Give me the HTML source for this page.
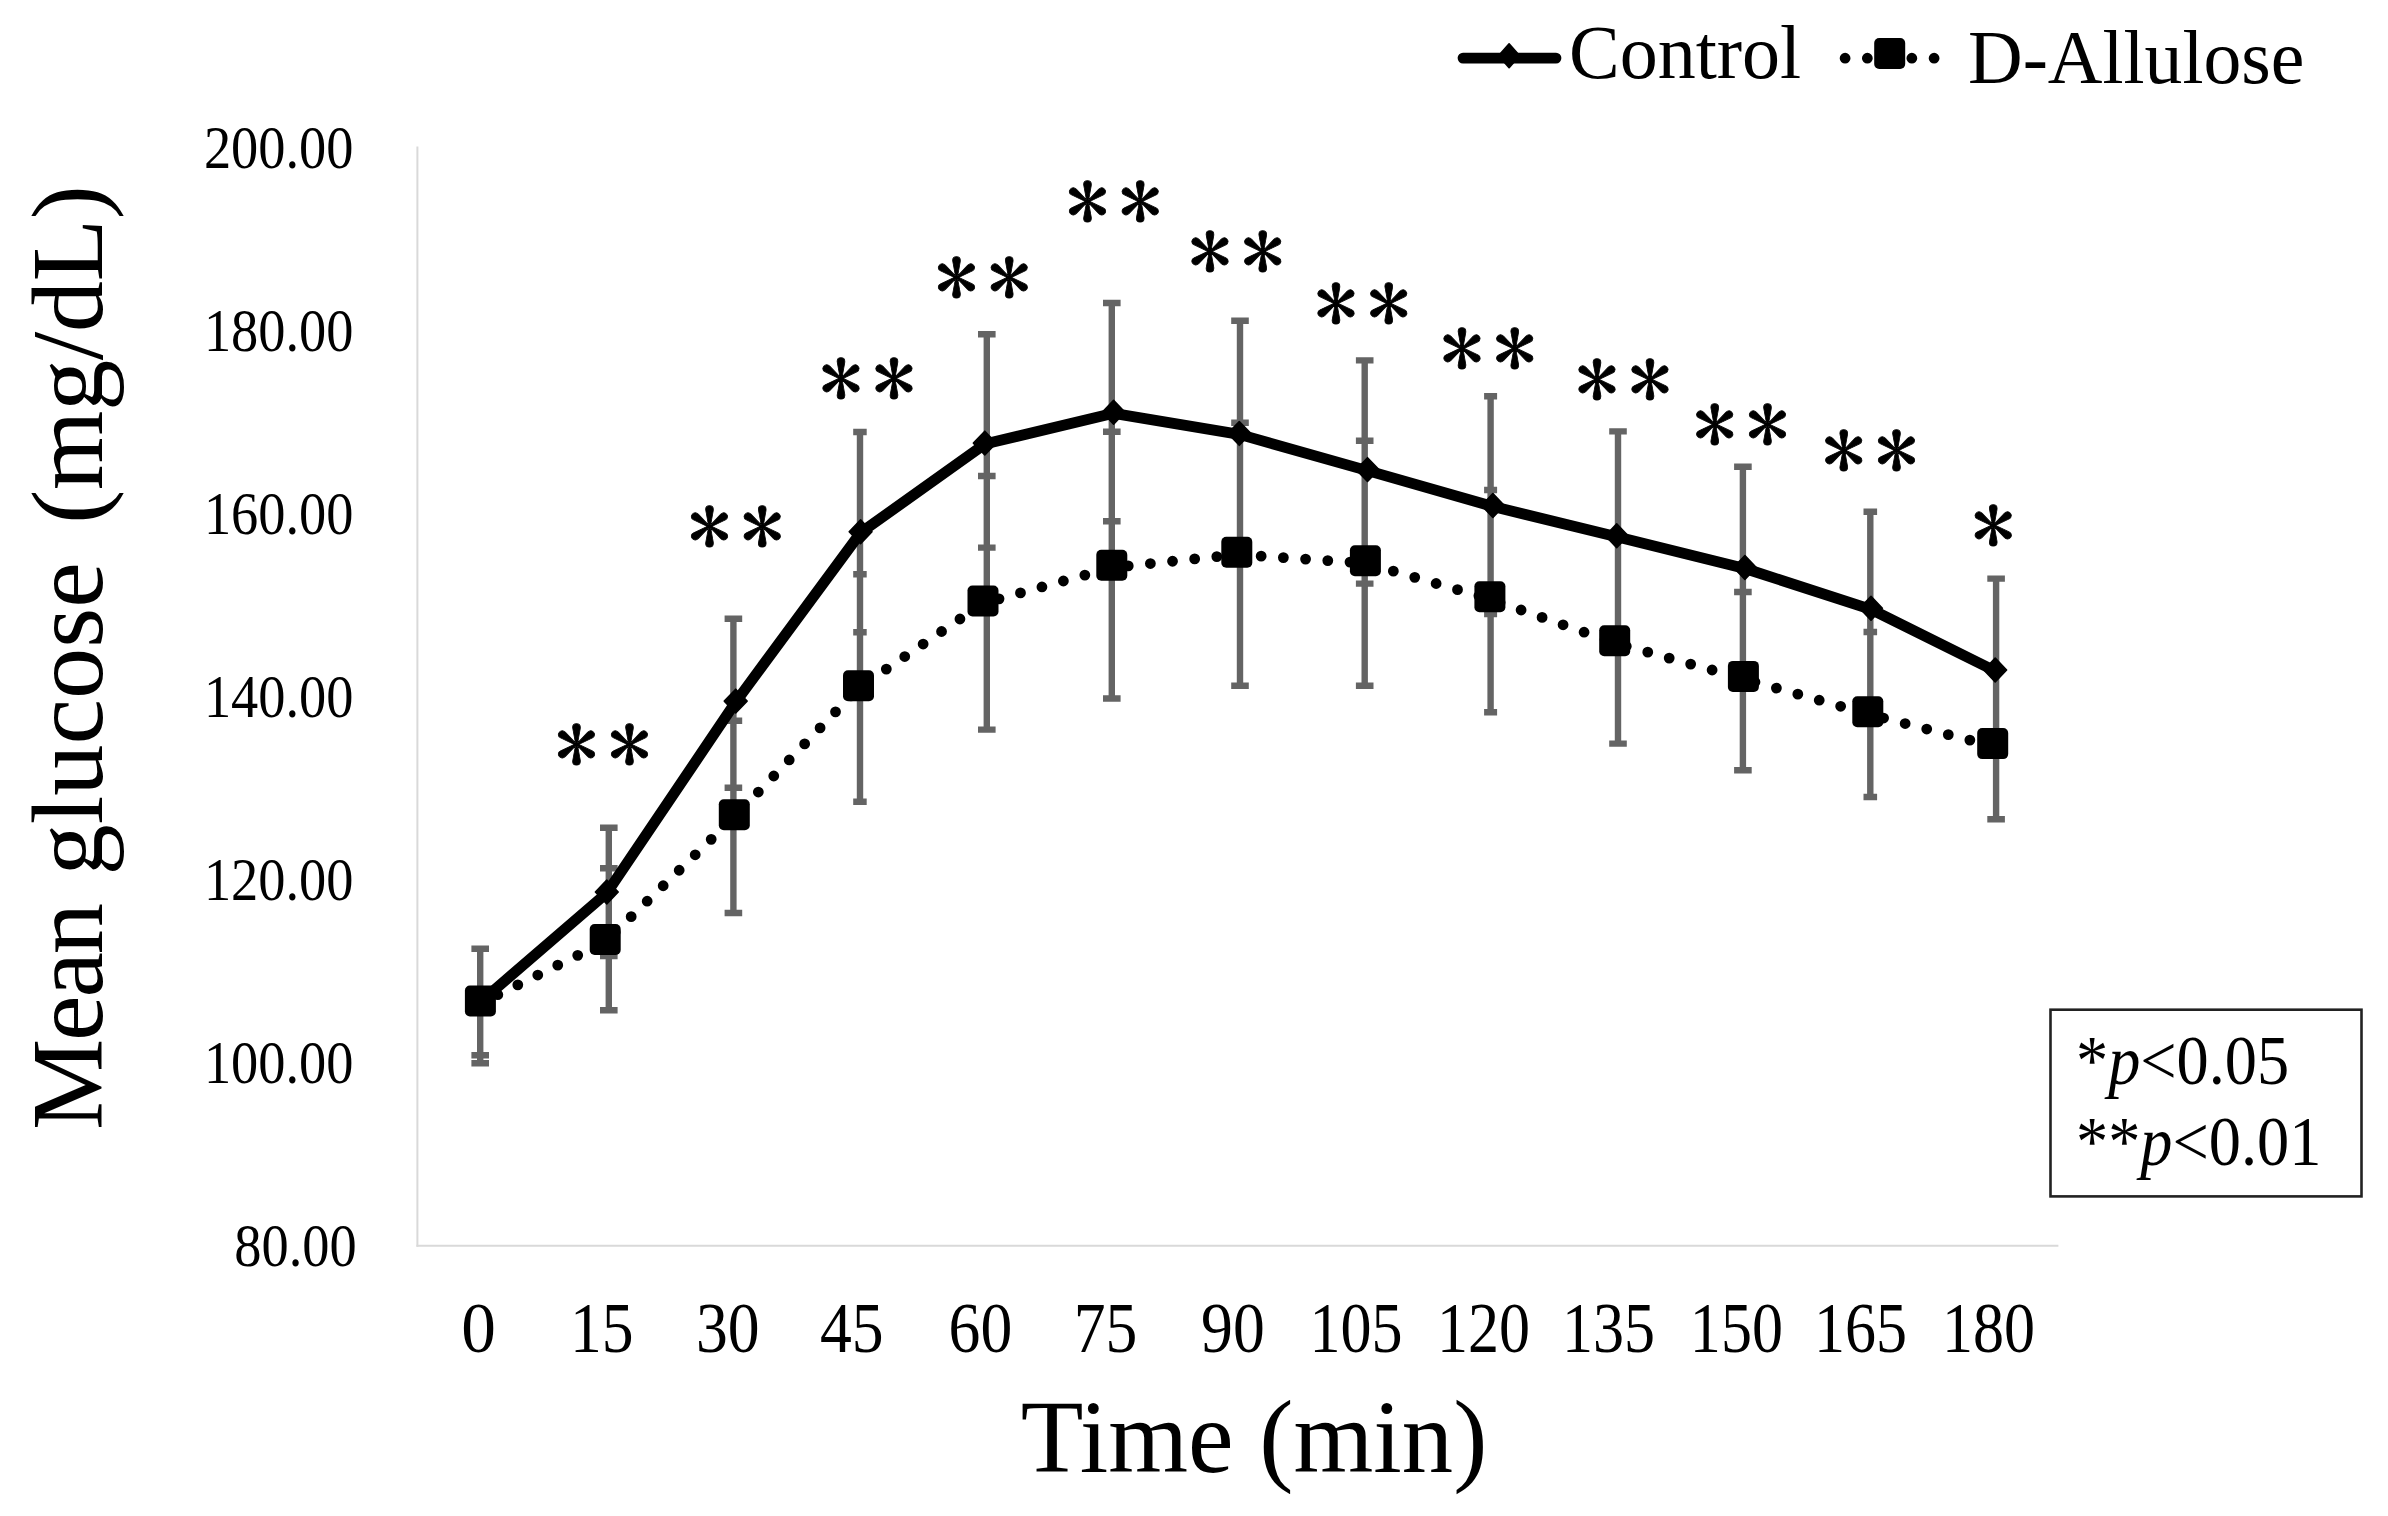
<!DOCTYPE html>
<html lang="en"><head><meta charset="utf-8"><title>Mean glucose over time</title>
<style>html,body{margin:0;padding:0;background:#fff}body{width:2388px;height:1516px;overflow:hidden}svg{display:block}text{font-family:'Liberation Serif',serif;fill:#000}.ast text{font-family:IPAGothic,'Liberation Serif',serif}</style></head><body>
<svg width="2388" height="1516" viewBox="0 0 2388 1516">
<rect width="2388" height="1516" fill="#fff"/>
<g stroke="#d9d9d9" stroke-width="2" fill="none"><line x1="417.4" y1="146.6" x2="417.4" y2="1246.8"/><line x1="416.4" y1="1245.8" x2="2058.4" y2="1245.8"/></g>
<text transform="translate(353.5 167.9) scale(0.892 1)" font-size="61" text-anchor="end">200.00</text>
<text transform="translate(353.5 350.9) scale(0.892 1)" font-size="61" text-anchor="end">180.00</text>
<text transform="translate(353.5 533.9) scale(0.892 1)" font-size="61" text-anchor="end">160.00</text>
<text transform="translate(353.5 716.9) scale(0.892 1)" font-size="61" text-anchor="end">140.00</text>
<text transform="translate(353.5 899.9) scale(0.892 1)" font-size="61" text-anchor="end">120.00</text>
<text transform="translate(353.5 1082.9) scale(0.892 1)" font-size="61" text-anchor="end">100.00</text>
<text transform="translate(356.7 1265.9) scale(0.892 1)" font-size="61" text-anchor="end">80.00</text>
<text transform="translate(478.7 1352.0) scale(0.970 1)" font-size="71.5" text-anchor="middle">0</text>
<text transform="translate(601.7 1352.0) scale(0.890 1)" font-size="71.5" text-anchor="middle">15</text>
<text transform="translate(727.7 1352.0) scale(0.890 1)" font-size="71.5" text-anchor="middle">30</text>
<text transform="translate(851.8 1352.0) scale(0.890 1)" font-size="71.5" text-anchor="middle">45</text>
<text transform="translate(980.4 1352.0) scale(0.890 1)" font-size="71.5" text-anchor="middle">60</text>
<text transform="translate(1105.6 1352.0) scale(0.890 1)" font-size="71.5" text-anchor="middle">75</text>
<text transform="translate(1232.9 1352.0) scale(0.890 1)" font-size="71.5" text-anchor="middle">90</text>
<text transform="translate(1356.0 1352.0) scale(0.868 1)" font-size="71.5" text-anchor="middle">105</text>
<text transform="translate(1483.5 1352.0) scale(0.868 1)" font-size="71.5" text-anchor="middle">120</text>
<text transform="translate(1608.6 1352.0) scale(0.868 1)" font-size="71.5" text-anchor="middle">135</text>
<text transform="translate(1736.4 1352.0) scale(0.868 1)" font-size="71.5" text-anchor="middle">150</text>
<text transform="translate(1860.6 1352.0) scale(0.868 1)" font-size="71.5" text-anchor="middle">165</text>
<text transform="translate(1988.5 1352.0) scale(0.868 1)" font-size="71.5" text-anchor="middle">180</text>
<text transform="translate(1254.0 1472.0) scale(0.987 1)" font-size="104" text-anchor="middle">Time (min)</text>
<text transform="translate(102 1130) rotate(-90)" font-size="102.5"><tspan letter-spacing="-2.1">Mean</tspan><tspan dx="4"> glucose</tspan><tspan dx="13.4" letter-spacing="-0.5"> (mg/dL)</tspan></text>
<g stroke="#646464" stroke-width="6.4" fill="none">
<path d="M480.2 948.8 V1063.2 M471.4 948.8 h17.6 M471.4 1055.3 h17.6 M471.4 1063.2 h17.6"/>
<path d="M608.8 827.7 V1010.2 M600.0 827.7 h17.6 M600.0 868.3 h17.6 M600.0 956.0 h17.6 M600.0 1010.2 h17.6"/>
<path d="M733.4 618.7 V913.0 M724.6 618.7 h17.6 M724.6 720.7 h17.6 M724.6 787.8 h17.6 M724.6 913.0 h17.6"/>
<path d="M860.0 432.0 V801.7 M853.2 432.0 h13.5 M853.2 574.3 h13.5 M853.2 632.2 h13.5 M853.2 801.7 h13.5"/>
<path d="M986.8 334.3 V729.6 M978.0 334.3 h17.6 M978.0 476.0 h17.6 M978.0 547.6 h17.6 M978.0 729.6 h17.6"/>
<path d="M1111.8 303.0 V698.5 M1103.0 303.0 h17.6 M1103.0 431.7 h17.6 M1103.0 521.2 h17.6 M1103.0 698.5 h17.6"/>
<path d="M1240.0 320.8 V685.8 M1231.2 320.8 h17.6 M1231.2 422.8 h17.6 M1231.2 685.8 h17.6"/>
<path d="M1364.7 360.4 V685.8 M1355.9 360.4 h17.6 M1355.9 440.8 h17.6 M1355.9 583.6 h17.6 M1355.9 685.8 h17.6"/>
<path d="M1490.6 396.3 V712.2 M1484.1 396.3 h13.0 M1484.1 490.0 h13.0 M1484.1 614.0 h13.0 M1484.1 712.2 h13.0"/>
<path d="M1618.0 431.4 V743.6 M1609.2 431.4 h17.6 M1609.2 743.6 h17.6"/>
<path d="M1742.9 466.8 V770.3 M1734.1 466.8 h17.6 M1734.1 592.0 h17.6 M1734.1 770.3 h17.6"/>
<path d="M1870.3 511.8 V797.0 M1863.5 511.8 h13.6 M1863.5 632.0 h13.6 M1863.5 797.0 h13.6"/>
<path d="M1996.1 578.6 V819.3 M1987.3 578.6 h17.6 M1987.3 819.3 h17.6"/>
</g>
<path d="M480.4 1003.3 L605.2 941.8 L734.3 817.0 L858.5 688.0 L983.0 603.3 L1111.8 567.6 L1236.8 554.5 L1365.4 563.1 L1489.9 599.0 L1614.7 643.0 L1743.4 678.7 L1867.8 714.0 L1992.7 745.9" fill="none" stroke="#000" stroke-width="10.8" stroke-linecap="round" stroke-linejoin="round" stroke-dasharray="0 22.26" stroke-dashoffset="2.82"/>
<path d="M480.4 1002.0 L606.8 893.0 L735.7 702.1 L860.6 532.7 L984.8 444.1 L1113.6 413.3 L1239.3 434.4 L1367.5 470.6 L1492.9 506.5 L1616.7 536.8 L1744.9 568.5 L1871.0 609.3 L1995.2 671.0" fill="none" stroke="#000" stroke-width="10.8" stroke-linecap="round" stroke-linejoin="round"/>
<g fill="#000" stroke="#000" stroke-width="1.6" stroke-linejoin="round">
<path d="M606.8 880.1 l11.4 11.9 l-11.4 11.9 l-11.4 -11.9z"/>
<path d="M735.7 689.2 l11.4 11.9 l-11.4 11.9 l-11.4 -11.9z"/>
<path d="M860.6 519.8 l11.4 11.9 l-11.4 11.9 l-11.4 -11.9z"/>
<path d="M984.8 431.2 l11.4 11.9 l-11.4 11.9 l-11.4 -11.9z"/>
<path d="M1113.6 400.4 l11.4 11.9 l-11.4 11.9 l-11.4 -11.9z"/>
<path d="M1239.3 421.5 l11.4 11.9 l-11.4 11.9 l-11.4 -11.9z"/>
<path d="M1367.5 457.7 l11.4 11.9 l-11.4 11.9 l-11.4 -11.9z"/>
<path d="M1492.9 493.6 l11.4 11.9 l-11.4 11.9 l-11.4 -11.9z"/>
<path d="M1616.7 523.9 l11.4 11.9 l-11.4 11.9 l-11.4 -11.9z"/>
<path d="M1744.9 555.6 l11.4 11.9 l-11.4 11.9 l-11.4 -11.9z"/>
<path d="M1871.0 596.4 l11.4 11.9 l-11.4 11.9 l-11.4 -11.9z"/>
<path d="M1995.2 658.1 l11.4 11.9 l-11.4 11.9 l-11.4 -11.9z"/>
</g>
<g fill="#000">
<rect x="464.9" y="985.5" width="31" height="31" rx="5"/>
<rect x="589.7" y="924.0" width="31" height="31" rx="5"/>
<rect x="718.8" y="799.2" width="31" height="31" rx="5"/>
<rect x="843.0" y="670.2" width="31" height="31" rx="5"/>
<rect x="967.5" y="585.5" width="31" height="31" rx="5"/>
<rect x="1096.3" y="549.8" width="31" height="31" rx="5"/>
<rect x="1221.3" y="536.7" width="31" height="31" rx="5"/>
<rect x="1349.9" y="545.3" width="31" height="31" rx="5"/>
<rect x="1474.4" y="581.2" width="31" height="31" rx="5"/>
<rect x="1599.2" y="625.2" width="31" height="31" rx="5"/>
<rect x="1727.9" y="660.9" width="31" height="31" rx="5"/>
<rect x="1852.3" y="696.2" width="31" height="31" rx="5"/>
<rect x="1977.2" y="728.1" width="31" height="31" rx="5"/>
</g>
<g class="ast" letter-spacing="9.3" stroke="#000" stroke-width="0.8">
<text transform="translate(555.1 775.6) scale(1.050 1)" font-size="82" text-anchor="start">**</text>
<text transform="translate(688.0 557.5) scale(1.050 1)" font-size="82" text-anchor="start">**</text>
<text transform="translate(819.6 410.1) scale(1.050 1)" font-size="82" text-anchor="start">**</text>
<text transform="translate(935.0 308.6) scale(1.050 1)" font-size="82" text-anchor="start">**</text>
<text transform="translate(1066.0 233.0) scale(1.050 1)" font-size="82" text-anchor="start">**</text>
<text transform="translate(1188.5 282.9) scale(1.050 1)" font-size="82" text-anchor="start">**</text>
<text transform="translate(1314.4 334.9) scale(1.050 1)" font-size="82" text-anchor="start">**</text>
<text transform="translate(1440.5 380.3) scale(1.050 1)" font-size="82" text-anchor="start">**</text>
<text transform="translate(1575.6 410.7) scale(1.050 1)" font-size="82" text-anchor="start">**</text>
<text transform="translate(1693.3 455.7) scale(1.050 1)" font-size="82" text-anchor="start">**</text>
<text transform="translate(1822.3 482.1) scale(1.050 1)" font-size="82" text-anchor="start">**</text>
<text transform="translate(1971.8 557.1) scale(1.050 1)" font-size="82" text-anchor="start">*</text>
</g>
<line x1="1463" y1="58.1" x2="1556" y2="58.1" stroke="#000" stroke-width="10.8" stroke-linecap="round"/>
<path d="M1509.1 43.8 l10.6 11.9 l-10.6 11.9 l-10.6 -11.9z" fill="#000" stroke="#000" stroke-width="1.6" stroke-linejoin="round"/>
<text transform="translate(1569.0 77.8) scale(1.000 1)" font-size="76" text-anchor="start">Control</text>
<line x1="1845.1" y1="58.2" x2="1940" y2="58.2" stroke="#000" stroke-width="10.8" stroke-linecap="round" stroke-dasharray="0 22.25"/>
<rect x="1874.2" y="38" width="31" height="31" rx="5" fill="#000"/>
<text transform="translate(1968.0 83.3) scale(0.996 1)" font-size="76" text-anchor="start">D-Allulose</text>
<rect x="2050.5" y="1009.7" width="311" height="186.7" fill="#fff" stroke="#222" stroke-width="2.6"/>
<text transform="translate(2076.0 1084.0) scale(0.927 1)" font-size="69.4" text-anchor="start">*<tspan font-style="italic">p</tspan>&lt;0.05</text>
<text transform="translate(2076.0 1165.0) scale(0.927 1)" font-size="69.4" text-anchor="start">**<tspan font-style="italic">p</tspan>&lt;0.01</text>
</svg></body></html>
